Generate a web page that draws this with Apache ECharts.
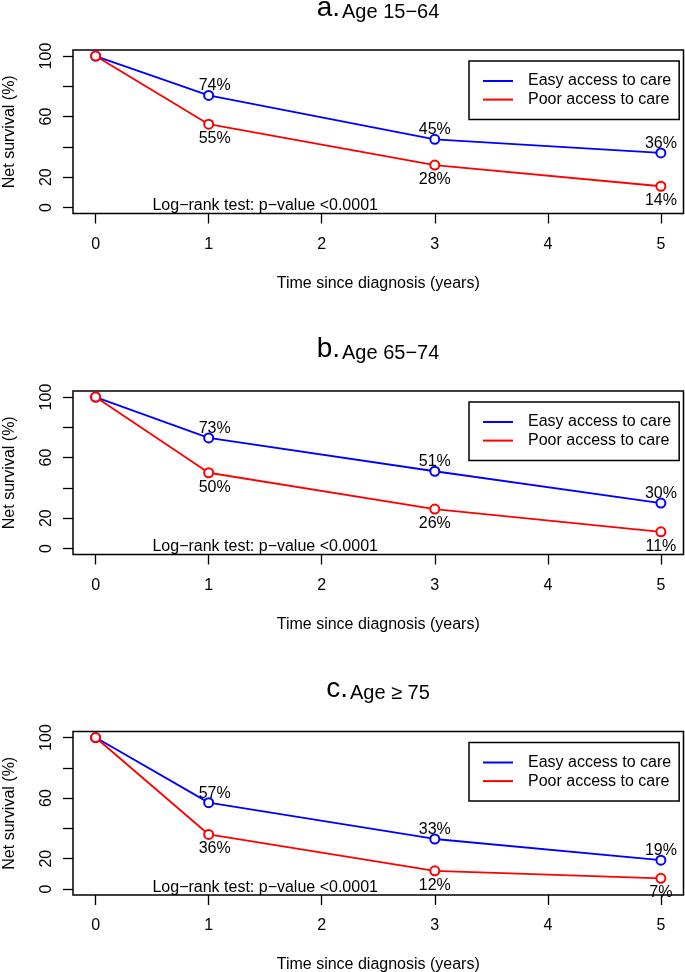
<!DOCTYPE html>
<html>
<head>
<meta charset="utf-8">
<script src="https://cdn.jsdelivr.net/npm/echarts@6/dist/echarts.min.js"></script>
<style>
  html, body { margin: 0; padding: 0; background: #fff; }
  #main { width: 685px; height: 972px; }
</style>
</head>
<body>
<div id="main"></div>
<script>
// survival (%) at 0, 1, 3 and 5 years
var years = [0, 1, 3, 5];
var easyA = [100, 74, 45, 36];
var poorA = [100, 55, 28, 14];
var easyB = [100, 73, 51, 30];
var poorB = [100, 50, 26, 11];
var easyC = [100, 57, 33, 19];
var poorC = [100, 36, 12, 7];

var panelLetters = ['a.', 'b.', 'c.'];
var panelTitles = ['Age 15\u221264', 'Age 65\u221274', 'Age \u2265 75'];
var seriesNames = ['Easy access to care', 'Poor access to care'];
var xTicks = [0, 1, 2, 3, 4, 5];
var yTicks = [0, 20, 40, 60, 80, 100];
var yTickLabels = [0, 20, 60, 100];
var testText = 'Log\u2212rank test: p\u2212value <0.0001';

var FONT = '"Liberation Sans", Arial, Helvetica, sans-serif';
var panelTop = [50, 391, 731.5];
var easyAll = [easyA, easyB, easyC];
var poorAll = [poorA, poorB, poorC];

function pairs(vals) {
  return years.map(function (x, i) {
    var item = { value: [x, vals[i]] };
    // labels at year 1 sit a little right of the point in the original
    if (x === 1) item.label = { offset: [6, 0] };
    return item;
  });
}

function pctLabel(p) {
  return p.value[0] === 0 ? '' : p.value[1] + '%';
}

var chart = echarts.init(document.getElementById('main'));

var grids = [], xAxes = [], yAxes = [], series = [], legends = [], graphics = [];

for (var i = 0; i < 3; i++) {
  grids.push({
    left: 73, right: 1.5, top: panelTop[i], height: 163.5,
    outerBoundsMode: 'none', containLabel: false,
    show: true, borderColor: '#000', borderWidth: 1.5, backgroundColor: 'transparent'
  });
  xAxes.push({
    type: 'value', gridIndex: i, min: -0.2, max: 5.2,
    axisLine: { show: false, onZero: false },
    axisTick: { show: true, length: 10, customValues: xTicks, lineStyle: { color: '#000', width: 1.3 } },
    axisLabel: { customValues: xTicks, margin: 23, color: '#000', fontSize: 16, fontFamily: FONT },
    splitLine: { show: false },
    name: 'Time since diagnosis (years)', nameLocation: 'middle', nameGap: 62,
    nameTextStyle: { color: '#000', fontSize: 16, fontFamily: FONT }
  });
  yAxes.push({
    type: 'value', gridIndex: i, min: -4, max: 104,
    axisLine: { show: false, onZero: false },
    axisTick: { show: true, length: 10, customValues: yTicks, lineStyle: { color: '#000', width: 1.3 } },
    axisLabel: { customValues: yTickLabels, rotate: 90, margin: 18, color: '#000', fontSize: 16, fontFamily: FONT },
    splitLine: { show: false },
    name: 'Net survival (%)', nameLocation: 'middle', nameGap: 55, nameRotate: 90,
    nameTextStyle: { color: '#000', fontSize: 16, fontFamily: FONT }
  });
  series.push({
    name: seriesNames[0], type: 'line', xAxisIndex: i, yAxisIndex: i,
    data: pairs(easyAll[i]), color: '#0000ff',
    symbol: 'emptyCircle', symbolSize: 9,
    lineStyle: { width: 1.8 }, itemStyle: { borderWidth: 1.8 },
    label: { show: true, position: 'top', distance: -4, formatter: pctLabel, color: '#000', fontSize: 16, fontFamily: FONT },
    animation: false
  });
  series.push({
    name: seriesNames[1], type: 'line', xAxisIndex: i, yAxisIndex: i,
    data: pairs(poorAll[i]), color: '#ff0000',
    symbol: 'emptyCircle', symbolSize: 9,
    lineStyle: { width: 1.8 }, itemStyle: { borderWidth: 1.8 },
    label: { show: true, position: 'bottom', distance: 1, formatter: pctLabel, color: '#000', fontSize: 16, fontFamily: FONT },
    animation: false
  });
  legends.push({
    left: 469, top: panelTop[i] + 11, orient: 'vertical',
    data: seriesNames, icon: 'rect', itemWidth: 30, itemHeight: 2, itemGap: 2.6,
    padding: [12, 8, 12, 14], borderColor: '#000', borderWidth: 1.5,
    itemStyle: { borderWidth: 0 }, selectedMode: false,
    textStyle: { color: '#000', fontSize: 16, lineHeight: 16, fontFamily: FONT, padding: [0, 0, 0, 10] }
  });
  graphics.push({
    type: 'text', x: 378, y: panelTop[i] - 28,
    style: {
      text: '{l|' + panelLetters[i] + '}{t|' + panelTitles[i] + '}',
      align: 'center', verticalAlign: 'bottom', fill: '#000',
      rich: {
        l: { fontSize: 28, fontFamily: FONT, verticalAlign: 'bottom', lineHeight: 28, padding: [0, 2, 0, 0] },
        t: { fontSize: 20, fontFamily: FONT, verticalAlign: 'bottom', lineHeight: 26 }
      }
    }
  });
}

chart.setOption({
  backgroundColor: '#fff',
  animation: false,
  grid: grids,
  xAxis: xAxes,
  yAxis: yAxes,
  legend: legends,
  series: series,
  graphic: graphics
});

// test annotation placed in data coordinates of each panel
for (var k = 0; k < 3; k++) {
  var pos = chart.convertToPixel({ gridIndex: k }, [1.5, 1]);
  graphics.push({
    type: 'text', x: pos[0], y: pos[1],
    style: { text: testText, align: 'center', verticalAlign: 'middle', fill: '#000', fontSize: 16, fontFamily: FONT }
  });
}
chart.setOption({ graphic: graphics });
</script>
</body>
</html>
